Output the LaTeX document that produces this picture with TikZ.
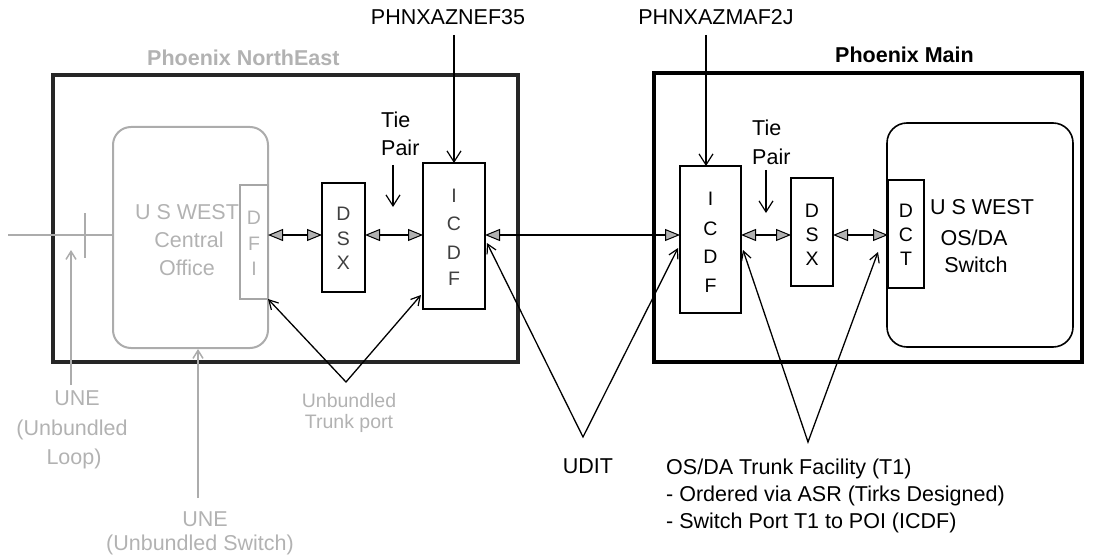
\documentclass[tikz,border=0pt]{standalone}
\usepackage{fontspec}
\setmainfont{Liberation Sans}
\usetikzlibrary{arrows.meta,calc}
\begin{document}
\begin{tikzpicture}[x=1pt,y=-1pt,
  lbl/.style={inner sep=0pt, font=\fontsize{21.5}{25}\selectfont, text height=15.4pt, text depth=0pt},
  lblb/.style={lbl, font=\fontsize{21.5}{25}\selectfont\bfseries},
  lblsm/.style={inner sep=0pt, font=\fontsize{19.5}{22}\selectfont, text height=14pt, text depth=0pt},
  faded/.style={text=gray!60},
  frame/.style={draw, line width=3.2pt, inner sep=0pt, outer sep=0pt, rectangle},
  box/.style={draw, line width=1.6pt, inner sep=0pt, outer sep=0pt, rectangle, fill=white},
  dbl/.style={line width=2pt, {Triangle[length=15pt,width=12pt,fill=gray!60,line width=1pt]}-{Triangle[length=15pt,width=12pt,fill=gray!60,line width=1pt]}},
  pointer/.style={line width=1.2pt, -{Straight Barb[length=11pt,width=14pt,line width=1.2pt]}},
  vline/.style={line width=1.3pt, {Straight Barb[length=9pt,width=10pt,line width=1.2pt]}-{Straight Barb[length=9pt,width=10pt,line width=1.2pt]}},
  grayarrow/.style={draw=gray!65, line width=2pt, -{Straight Barb[length=8pt,width=10pt,line width=1.5pt]}}
]
\path[use as bounding box] (0,0) rectangle (1093,559);

% outer frames
\node[frame, draw=black!85, minimum width=465pt, minimum height=287pt] (lbox) at (285.5,218.5) {};
\node[frame, minimum width=428pt, minimum height=289pt] (rbox) at (868,217.5) {};

% titles
\node[lblb, faded, anchor=west] (tne) at (147,58) {Phoenix NorthEast};
\node[lblb, anchor=west] (tmain) at (835,55) {Phoenix Main};

% central office (faded)
\node[draw=gray!65, line width=2pt, rounded corners=18pt, inner sep=0pt, minimum width=155pt, minimum height=221pt] (co) at (190.5,237.5) {};
\node[lbl, faded] (co1) at (187,212) {U S WEST};
\node[lbl, faded] (co2) at (189,240) {Central};
\node[lbl, faded] (co3) at (187,268) {Office};
\node[box, draw=gray!70, line width=2pt, minimum width=28pt, minimum height=114pt] (dfi) at (254,242) {};
\node[lblsm, faded] (dfi1) at (254,218) {D};
\node[lblsm, faded] (dfi2) at (254,243) {F};
\node[lblsm, faded] (dfi3) at (254,268) {I};

% left DSX and ICDF
\node[box, minimum width=43pt, minimum height=109pt] (ldsx) at (343.5,237.5) {};
\node[lblsm, text=black!75] (ldsx1) at (343.5,213) {D};
\node[lblsm, text=black!75] (ldsx2) at (343.5,238) {S};
\node[lblsm, text=black!75] (ldsx3) at (343.5,262) {X};
\node[box, minimum width=62pt, minimum height=146pt] (licdf) at (454,236) {};
\node[lblsm, text=black!75] (licdf1) at (454,195) {I};
\node[lblsm, text=black!75] (licdf2) at (454,223) {C};
\node[lblsm, text=black!75] (licdf3) at (454,252) {D};
\node[lblsm, text=black!75] (licdf4) at (454,278) {F};

% right ICDF, DSX, switch, DCT
\node[box, minimum width=61pt, minimum height=147pt] (ricdf) at (710.5,239.5) {};
\node[lblsm] (ricdf1) at (710.5,198) {I};
\node[lblsm] (ricdf2) at (710.5,228) {C};
\node[lblsm] (ricdf3) at (710.5,256) {D};
\node[lblsm] (ricdf4) at (710.5,285) {F};
\node[box, minimum width=42pt, minimum height=108pt] (rdsx) at (812,232) {};
\node[lblsm] (rdsx1) at (812,210) {D};
\node[lblsm] (rdsx2) at (812,234) {S};
\node[lblsm] (rdsx3) at (812,258) {X};
\node[draw, line width=1.6pt, rounded corners=20pt, inner sep=0pt, minimum width=186pt, minimum height=224pt] (sw) at (980,235) {};
\node[box, minimum width=36pt, minimum height=108pt] (dct) at (906,234) {};
\node[lblsm] (dct1) at (906,210) {D};
\node[lblsm] (dct2) at (906,234) {C};
\node[lblsm] (dct3) at (906,258) {T};
\node[lbl] (sw1) at (982,207) {U S WEST};
\node[lbl] (sw2) at (974,238) {OS/DA};
\node[lbl] (sw3) at (976,265) {Switch};

% main line level
\coordinate (my) at (0,235);
\coordinate (lin) at (8,235);

% incoming line (faded)
\draw[gray!65, line width=2pt] (lin) -- (co.west |- my);
\coordinate (tk1) at (85,213);
\coordinate (tk2) at (85,258);
\draw[gray!65, line width=2.5pt] (tk1) -- (tk2);

% double arrows along the chain
\draw[dbl] (dfi.east |- my) -- (ldsx.west |- my);
\draw[dbl] (ldsx.east |- my) -- (licdf.west |- my);
\draw[dbl] (licdf.east |- my) -- (ricdf.west |- my);
\draw[dbl] (ricdf.east |- my) -- (rdsx.west |- my);
\draw[dbl] (rdsx.east |- my) -- (dct.west |- my);

% CLLI codes
\node[lbl] (clli1) at (448,17) {PHNXAZNEF35};
\node[lbl] (clli2) at (716,17) {PHNXAZMAF2J};
\draw[pointer] (clli1.south -| licdf.north) ++(0,10) -- (licdf.north);
\draw[pointer] (clli2.south -| 706,0) ++(0,10) -- (ricdf.north -| 706,0);

% Tie pairs
\node[lbl, anchor=west] (tie1) at (381,120) {Tie};
\node[lbl, anchor=west] (pair1) at (381,148) {Pair};
\coordinate (tp1a) at (393,165);
\coordinate (tp1b) at (393,207);
\draw[pointer] (tp1a) -- (tp1b);
\node[lbl, anchor=west] (tie2) at (752,128) {Tie};
\node[lbl, anchor=west] (pair2) at (752,157) {Pair};
\coordinate (tp2a) at (766,170);
\coordinate (tp2b) at (766,213);
\draw[pointer] (tp2a) -- (tp2b);

% Unbundled trunk port
\coordinate (utp) at (346,382);
\coordinate (utpr) at (421,295);
\draw[vline] (dfi.south east) -- (utp) -- (utpr);
\node[lblsm, faded] (utp1) at (349,400) {Unbundled};
\node[lblsm, faded] (utp2) at (349,421) {Trunk port};

% UDIT
\coordinate (udit) at (583,437);
\coordinate (udl) at (487,243);
\coordinate (udr) at (678,248);
\draw[vline] (udl) -- (udit) -- (udr);
\node[lbl] (uditl) at (588,466) {UDIT};

% OS/DA trunk facility
\coordinate (osda) at (808,442);
\coordinate (osl) at (743,250);
\coordinate (osr) at (878,252);
\draw[vline] (osl) -- (osda) -- (osr);
\node[lbl, anchor=west] (os1) at (666,467) {OS/DA Trunk Facility (T1)};
\node[lbl, anchor=west] (os2) at (666,494) {- Ordered via ASR (Tirks Designed)};
\node[lbl, anchor=west] (os3) at (666,521) {- Switch Port T1 to POI (ICDF)};

% UNE loop
\coordinate (ulb) at (71,385);
\coordinate (ult) at (71,250);
\draw[grayarrow] (ulb) -- (ult);
\node[lbl, faded] (ul1) at (77,398) {UNE};
\node[lbl, faded] (ul2) at (72,428) {(Unbundled};
\node[lbl, faded] (ul3) at (74,457) {Loop)};

% UNE switch
\coordinate (usb) at (198,498);
\draw[grayarrow] (usb) -- (co.south -| usb);
\node[lbl, faded] (us1) at (205,519) {UNE};
\node[lbl, faded] (us2) at (200,543) {(Unbundled Switch)};
\end{tikzpicture}
\end{document}
